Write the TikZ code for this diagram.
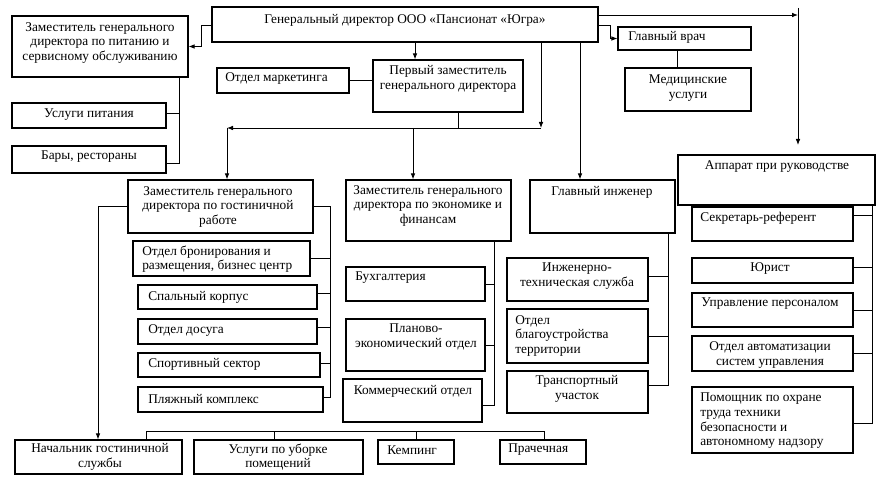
\documentclass[tikz,border=0pt]{standalone}
\usepackage{fontspec}
\setmainfont{Liberation Serif}
\usetikzlibrary{arrows.meta,fit}
\tikzset{
 box/.style={draw=black, line width=0.9pt, inner sep=0pt},
 txt/.style={inner sep=0pt, font=\fontsize{10}{11}\selectfont, align=center},
 ltxt/.style={txt, align=left, anchor=west},
 ln/.style={draw=black, line width=0.7pt},
 arr/.style={ln, -{Latex[length=4.5pt,width=3.5pt]}},
}
\begin{document}
\begin{tikzpicture}[x=0.75pt,y=-0.75pt]
\useasboundingbox (0,0) rectangle (884,484);
\fill[white] (0,0) rectangle (884,484);
% boxes
\node[box, fit={(212,7)(598,42)}] (gd) {};
\node[box, fit={(12,16)(188,77)}] (pit) {};
\node[box, fit={(12,103)(166,128)}] (uslp) {};
\node[box, fit={(12,146)(166,173)}] (bar) {};
\node[box, fit={(217,68)(349,93)}] (mark) {};
\node[box, fit={(373,60)(523,112)}] (perv) {};
\node[box, fit={(618,27)(751,50)}] (vrach) {};
\node[box, fit={(625,68)(751,111)}] (med) {};
\node[box, fit={(678,155)(875,205)}] (app) {};
\node[box, fit={(128,180)(313,233)}] (gost) {};
\node[box, fit={(346,180)(511,241)}] (econ) {};
\node[box, fit={(530,180)(675,233)}] (ing) {};
\node[box, fit={(133,241)(310,276)}] (bron) {};
\node[box, fit={(138,285)(317,309)}] (spal) {};
\node[box, fit={(138,319)(317,344)}] (dos) {};
\node[box, fit={(138,353)(320,377)}] (sport) {};
\node[box, fit={(138,387)(323,412)}] (plyazh) {};
\node[box, fit={(346,267)(485,301)}] (buh) {};
\node[box, fit={(346,319)(485,371)}] (plan) {};
\node[box, fit={(343,379)(482,422)}] (komm) {};
\node[box, fit={(507,258)(648,301)}] (inzh) {};
\node[box, fit={(507,309)(648,363)}] (blag) {};
\node[box, fit={(507,371)(648,413)}] (trans) {};
\node[box, fit={(692,207)(853,241)}] (sekr) {};
\node[box, fit={(692,258)(853,283)}] (yur) {};
\node[box, fit={(692,293)(853,327)}] (upr) {};
\node[box, fit={(692,336)(853,371)}] (avt) {};
\node[box, fit={(692,387)(853,453)}] (pom) {};
\node[box, fit={(15,440)(182,474)}] (nach) {};
\node[box, fit={(194,440)(363,474)}] (ubor) {};
\node[box, fit={(378,440)(454,464)}] (kemp) {};
\node[box, fit={(500,440)(586,464)}] (prach) {};
% texts
\node[txt] (t-gd) at (405,20) {Генеральный директор ООО «Пансионат «Югра»};
\node[txt] (t-pit) at (100,43) {Заместитель генерального\\директора по питанию и\\сервисному обслуживанию};
\node[txt] (t-uslp) at (89,115) {Услуги питания};
\node[txt] (t-bar) at (89,157) {Бары, рестораны};
\node[ltxt] (t-mark) at (225,79) {Отдел маркетинга};
\node[txt] (t-perv) at (448,79) {Первый заместитель\\генерального директора};
\node[ltxt] (t-vrach) at (628,37) {Главный врач};
\node[txt] (t-med) at (688,88) {Медицинские\\услуги};
\node[txt] (t-app) at (777,167) {Аппарат при руководстве};
\node[txt] (t-gost) at (218,207) {Заместитель генерального\\директора по гостиничной\\работе};
\node[txt] (t-econ) at (428,206) {Заместитель генерального\\директора по экономике и\\финансам};
\node[txt] (t-ing) at (602,192) {Главный инженер};
\node[ltxt] (t-bron) at (142,259) {Отдел бронирования и\\размещения, бизнес центр};
\node[ltxt] (t-spal) at (148,297) {Спальный корпус};
\node[ltxt] (t-dos) at (148,331) {Отдел досуга};
\node[ltxt] (t-sport) at (148,364) {Спортивный сектор};
\node[ltxt] (t-plyazh) at (148,399) {Пляжный комплекс};
\node[ltxt] (t-buh) at (355,278) {Бухгалтерия};
\node[txt] (t-plan) at (416,337) {Планово-\\экономический отдел};
\node[txt] (t-komm) at (413,391) {Коммерческий отдел};
\node[txt] (t-inzh) at (577,276) {Инженерно-\\техническая служба};
\node[ltxt] (t-blag) at (515,336) {Отдел\\благоустройства\\территории};
\node[txt] (t-trans) at (577,389) {Транспортный\\участок};
\node[ltxt] (t-sekr) at (700,218) {Секретарь-референт};
\node[txt] (t-yur) at (770,269) {Юрист};
\node[txt] (t-upr) at (770,304) {Управление персоналом};
\node[txt] (t-avt) at (770,355) {Отдел автоматизации\\систем управления};
\node[ltxt] (t-pom) at (700,421) {Помощник по охране\\труда техники\\безопасности и\\автономному надзору};
\node[txt] (t-nach) at (100,457) {Начальник гостиничной\\службы};
\node[txt] (t-ubor) at (278,457) {Услуги по уборке\\помещений};
\node[ltxt] (t-kemp) at (387,450) {Кемпинг};
\node[ltxt] (t-prach) at (508,450) {Прачечная};
% helper coordinates
\foreach \v in {98,146,179,201,227,274,330,413,415,416,458,494,541,544,580,610,668,677,798,872}
  {\coordinate (X\v) at (\v,0);}
\foreach \v in {8,15,25,113,128,145,163,215,267,276,293,327,363,385,397,405,423,431}
  {\coordinate (Y\v) at (0,\v);}
% connectors
\draw[arr] (gd.west |- Y25) -- (X201 |- Y25) |- (pit.east);
\draw[ln] (pit.south -| X179) -- (X179 |- Y163) -- (bar.east |- Y163);
\draw[ln] (uslp.east |- Y113) -- (X179 |- Y113);
\draw[ln] (mark.east) -- (perv.west |- mark.east);
\draw[arr] (gd.south -| X415) -- (perv.north -| X415);
\draw[ln] (perv.south -| X458) -- (X458 |- Y128);
\draw[arr] (gd.south -| X541) -- (X541 |- Y128);
\draw[arr] (X541 |- Y128) -- (X227 |- Y128);
\draw[arr] (X227 |- Y128) -- (gost.north -| X227);
\draw[arr] (X413 |- Y128) -- (econ.north -| X413);
\draw[arr] (gd.south -| X580) -- (ing.north -| X580);
\draw[arr] (gd.east |- Y15) -- (X798 |- Y15);
\draw[arr] (X798 |- Y8) -- (X798 |- Y145);
\draw[arr] (gd.east |- Y25) -- (X610 |- Y25) |- (vrach.west);
\draw[ln] (vrach.south -| X677) -- (med.north -| X677);
\draw[ln] (app.south -| X872) -- (X872 |- Y423) -- (pom.east |- Y423);
\draw[ln] (sekr.east |- Y215) -- (X872 |- Y215);
\draw[ln] (yur.east |- Y267) -- (X872 |- Y267);
\draw[ln] (upr.east) -- (X872 |- upr.east);
\draw[ln] (avt.east) -- (X872 |- avt.east);
\draw[arr] (gost.west) -- (X98 |- gost.west) -- (nach.north -| X98);
\draw[ln] (gost.east) -- (X330 |- gost.east) -- (X330 |- Y397) -- (plyazh.east |- Y397);
\draw[ln] (bron.east) -- (X330 |- bron.east);
\draw[ln] (spal.east |- Y293) -- (X330 |- Y293);
\draw[ln] (dos.east |- Y327) -- (X330 |- Y327);
\draw[ln] (sport.east |- Y363) -- (X330 |- Y363);
\draw[ln] (econ.south -| X494) -- (X494 |- Y405) -- (komm.east |- Y405);
\draw[ln] (buh.east) -- (X494 |- buh.east);
\draw[ln] (plan.east) -- (X494 |- plan.east);
\draw[ln] (ing.south -| X668) -- (X668 |- Y385) -- (trans.east |- Y385);
\draw[ln] (inzh.east |- Y276) -- (X668 |- Y276);
\draw[ln] (blag.east) -- (X668 |- blag.east);
\draw[ln] (nach.north -| X146) -- (X146 |- Y431) -- (X544 |- Y431) -- (prach.north -| X544);
\draw[ln] (X274 |- Y431) -- (ubor.north -| X274);
\draw[ln] (X416 |- Y431) -- (kemp.north -| X416);
\end{tikzpicture}
\end{document}
